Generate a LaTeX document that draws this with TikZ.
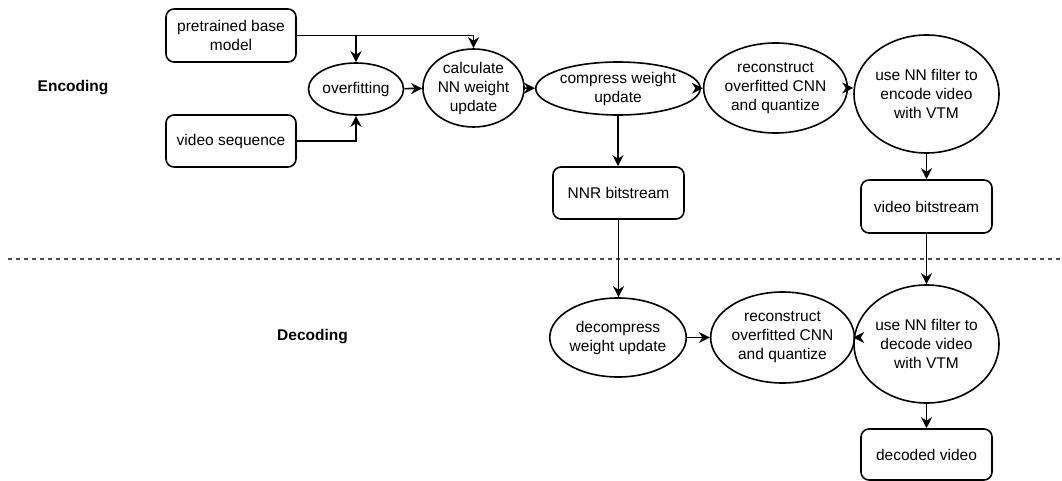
\documentclass[tikz,border=0pt]{standalone}
\usepackage{fontspec}
\setmainfont{Liberation Sans}
\usetikzlibrary{shapes.geometric,arrows.meta}

\begin{document}
\begin{tikzpicture}[x=1pt,y=-1pt,
  font=\fontsize{15.5}{19}\selectfont,
  every node/.style={align=center, inner sep=0pt, line width=1.6pt},
  box/.style={draw, rounded corners=8pt, minimum width=#1, minimum height=52pt},
  oval/.style n args={2}{draw, ellipse, minimum width=#1, minimum height=#2},
  flow/.style={line width=1.6pt, -{Stealth[length=11pt,width=11pt,inset=3.5pt]}},
  phase/.style={font=\fontsize{15.5}{19}\selectfont\bfseries},
  separator/.style={line width=1.5pt, dash pattern=on 4pt off 4pt, draw=black!70}
]
  \useasboundingbox (0,0) rectangle (1062,481);

  % phase labels and the boundary between them
  \node[phase] (enclab) at (73,88) {Encoding};
  \node[phase] (declab) at (312.5,337) {Decoding};
  \coordinate (sepL) at (8,259);
  \coordinate (sepR) at (1062,259);
  \draw[separator] (sepL) -- (sepR);

  % encoder side
  \node[box=130pt, minimum height=53pt] (pre) at (231,35.5) {pretrained base\\model};
  \node[box=130pt] (vid) at (231,141) {video sequence};
  \node[oval={91pt}{52pt}] (ovf) at (356,89) {overfitting};
  \node[oval={91pt}{78pt}] (calc) at (473.5,88) {calculate\\NN weight\\update};
  \node[oval={158pt}{53pt}] (comp) at (618,88.5) {compress weight\\update};
  \node[oval={119pt}{90pt}] (rec1) at (775.5,88) {reconstruct\\overfitted CNN\\and quantize};
  \node[oval={119pt}{118pt}] (enc) at (926.5,94) {use NN filter to\\encode video\\with VTM};
  \node[box=131pt] (nnr) at (618.5,193) {NNR bitstream};
  \node[box=131pt, minimum height=53pt] (vbs) at (926.5,206.5) {video bitstream};

  % decoder side
  \node[oval={118pt}{79pt}] (dec) at (618,337.5) {decompress\\weight update};
  \node[oval={119pt}{91pt}] (rec2) at (782.5,337.5) {reconstruct\\overfitted CNN\\and quantize};
  \node[oval={119pt}{118pt}] (dvid) at (926.5,344) {use NN filter to\\decode video\\with VTM};
  \node[box=131pt, minimum height=51pt] (out) at (926.5,454.5) {decoded video};

  % connectors
  \draw[flow] (pre.east) -| (ovf.north);
  \draw[flow] (pre.east) -| (calc.north);
  \draw[flow] (vid.east) -| (ovf.south);
  \draw[flow] (ovf) -- (calc);
  \draw[flow] (calc) -- (comp);
  \draw[flow] (comp) -- (rec1);
  \draw[flow] (rec1.east) -- (rec1.east -| enc.west);
  \draw[flow] (comp.south) -- (comp.south |- nnr.north);
  \draw[flow] (enc) -- (vbs);
  \draw[flow] (nnr.south) -- (nnr.south |- dec.north);
  \draw[flow] (vbs) -- (dvid);
  \draw[flow] (dec) -- (rec2);
  \draw[flow] (rec2.east) -- (rec2.east -| dvid.west);
  \draw[flow] (dvid) -- (out);
\end{tikzpicture}
\end{document}
